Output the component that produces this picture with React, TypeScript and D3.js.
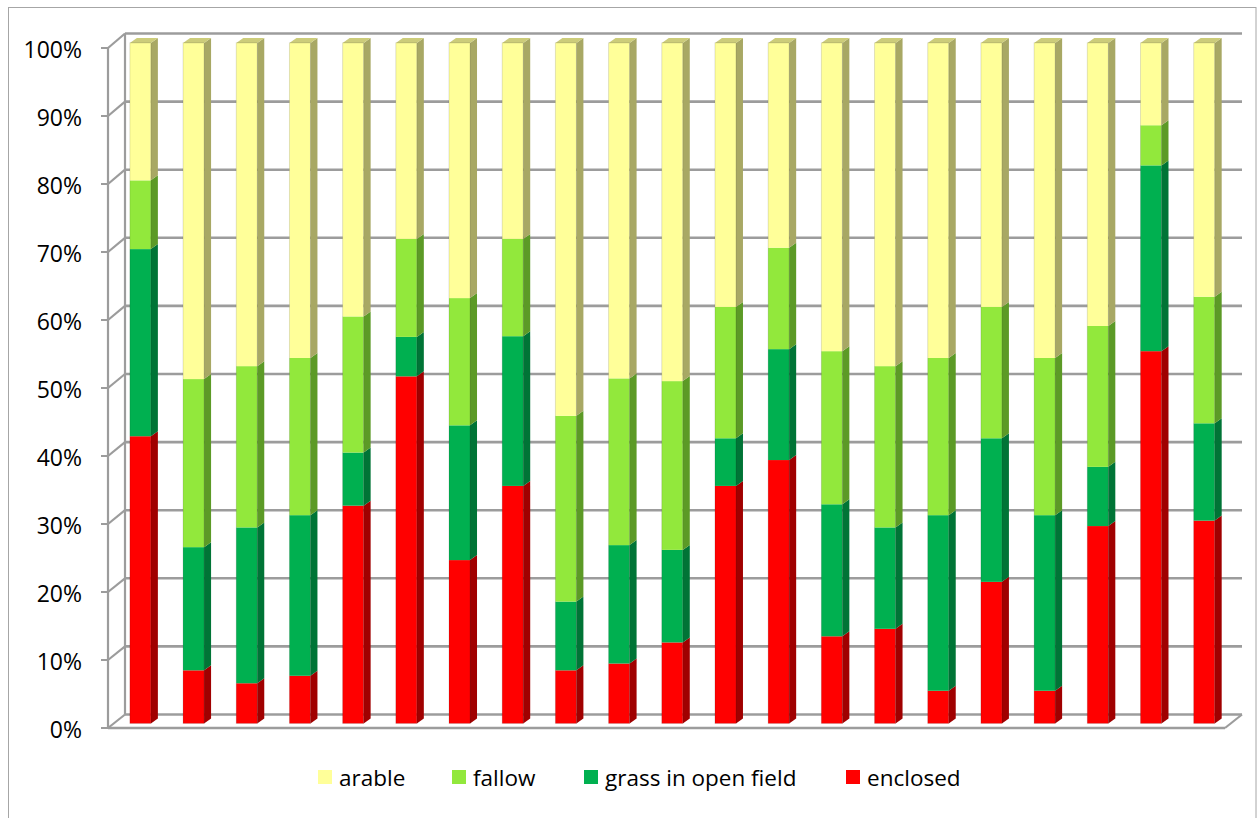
import React from "react";
import * as d3 from "d3";

// ---- data (percent of each bar) ----
const categories = Array.from({ length: 21 }, (_, i) => `${i + 1}`);
const enclosed = [42.2, 7.8, 5.9, 7.0, 32.0, 51.0, 24.0, 34.9, 7.8, 8.8, 11.9, 34.9, 38.7, 12.8, 13.9, 4.8, 20.8, 4.8, 29.0, 54.7, 29.8];
const grass = [27.5, 18.1, 22.9, 23.6, 7.8, 5.8, 19.8, 22.0, 10.1, 17.4, 13.6, 7.0, 16.3, 19.4, 14.9, 25.8, 21.1, 25.8, 8.7, 27.3, 14.3];
const fallow = [10.1, 24.7, 23.7, 23.1, 20.0, 14.4, 18.7, 14.3, 27.3, 24.5, 24.8, 19.3, 14.9, 22.5, 23.7, 23.1, 19.3, 23.1, 20.7, 5.9, 18.6];
const arable = [20.2, 49.4, 47.5, 46.3, 40.2, 28.8, 37.5, 28.8, 54.8, 49.3, 49.7, 38.8, 30.1, 45.3, 47.5, 46.3, 38.8, 46.3, 41.6, 12.1, 37.3];
const yTicks = [0, 0.1, 0.2, 0.3, 0.4, 0.5, 0.6, 0.7, 0.8, 0.9, 1];

const seriesKeys = ["enclosed", "grass", "fallow", "arable"];
const seriesLabels: Record<string, string> = {
  arable: "arable",
  fallow: "fallow",
  grass: "grass in open field",
  enclosed: "enclosed",
};
const legendOrder = ["arable", "fallow", "grass", "enclosed"];
const frontColor: Record<string, string> = {
  arable: "#FFFF99",
  fallow: "#92E83C",
  grass: "#00B050",
  enclosed: "#FF0000",
};
const sideColor: Record<string, string> = {
  arable: "#A8A864",
  fallow: "#5C9A26",
  grass: "#007436",
  enclosed: "#A00000",
};
const topColor: Record<string, string> = {
  arable: "#CCCC7A",
  fallow: "#74BA30",
  grass: "#009040",
  enclosed: "#CC0000",
};

export default function App() {
  const rows = categories.map((c, i) => ({
    cat: c,
    enclosed: enclosed[i],
    grass: grass[i],
    fallow: fallow[i],
    arable: arable[i],
  }));
  const stacked = d3
    .stack<any>()
    .keys(seriesKeys)
    .offset(d3.stackOffsetExpand)(rows);

  // 3D geometry
  const axisX = 108; // front-left of floor
  const depthDX = 17;
  const depthDY = -13.5;
  const floorRightFront = 1225;
  const yFront = d3.scaleLinear().domain([0, 1]).range([728, 48]);
  const yBack = d3.scaleLinear().domain([0, 1]).range([728 + depthDY, 48 + depthDY - 1]);
  const barDepthFrac = 0.34;
  const yBar = d3
    .scaleLinear()
    .domain([0, 1])
    .range([728 + depthDY * barDepthFrac, 48 + depthDY * barDepthFrac - 0.5]);
  const planeLeft = axisX + depthDX * barDepthFrac;
  const planeRight = floorRightFront + depthDX * barDepthFrac;
  const x = d3
    .scaleBand<string>()
    .domain(categories)
    .range([planeLeft, planeRight])
    .paddingInner(0.605)
    .paddingOuter(0.3025);
  const bw = x.bandwidth();
  const sdx = 7;
  const sdy = -5;

  const grid = "#9C9C9C";
  const font = "'Open Sans', 'DejaVu Sans', sans-serif";

  return (
    <svg
      width={1258}
      height={818}
      style={{ position: "absolute", left: 0, top: 0, background: "#fff" }}
    >
      {/* chart border */}
      <rect x={8.5} y={7.5} width={1247.5} height={830} fill="#fff" stroke="#A6A6A6" strokeWidth={1} />

      {/* back wall & gridlines */}
      <line x1={axisX + depthDX} x2={axisX + depthDX} y1={yBack(0)} y2={yBack(1)} stroke={grid} strokeWidth={2.2} />
      {yTicks.map((t) => (
        <g key={t}>
          <line
            x1={axisX + depthDX}
            x2={floorRightFront + depthDX}
            y1={yBack(t)}
            y2={yBack(t)}
            stroke={grid}
            strokeWidth={2.6}
          />
          <line x1={axisX} x2={axisX + depthDX} y1={yFront(t)} y2={yBack(t)} stroke={grid} strokeWidth={2.2} />
          <line x1={axisX - 7} x2={axisX} y1={yFront(t)} y2={yFront(t)} stroke={grid} strokeWidth={2} />
          <text
            x={82}
            y={yFront(t) + 1}
            textAnchor="end"
            dominantBaseline="central"
            fontFamily={font}
            fontSize={23}
            fill="#000"
          >
            {d3.format(".0%")(t)}
          </text>
        </g>
      ))}
      {/* floor */}
      <line x1={axisX} x2={floorRightFront} y1={yFront(0)} y2={yFront(0)} stroke={grid} strokeWidth={2.6} />
      <line
        x1={floorRightFront}
        x2={floorRightFront + depthDX}
        y1={yFront(0)}
        y2={yBack(0)}
        stroke={grid}
        strokeWidth={2.2}
      />
      <line x1={axisX} x2={axisX} y1={yFront(0)} y2={yFront(1)} stroke={grid} strokeWidth={2.2} />

      {/* bars */}
      {categories.map((c, i) => {
        const x0 = x(c)!;
        return (
          <g key={c}>
            {stacked.map((s, si) => {
              const key = s.key;
              const y0 = yBar(s[i][0]);
              const y1 = yBar(s[i][1]);
              const isTop = si === stacked.length - 1;
              return (
                <g key={key}>
                  <rect x={x0} y={y1} width={bw} height={y0 - y1} fill={frontColor[key]} />
                  <polygon
                    points={`${x0 + bw},${y1} ${x0 + bw + sdx},${y1 + sdy} ${x0 + bw + sdx},${y0 + sdy} ${x0 + bw},${y0}`}
                    fill={sideColor[key]}
                  />
                  {isTop && (
                    <polygon
                      points={`${x0},${y1} ${x0 + sdx},${y1 + sdy} ${x0 + bw + sdx},${y1 + sdy} ${x0 + bw},${y1}`}
                      fill={topColor[key]}
                    />
                  )}
                </g>
              );
            })}
            <rect
              x={x0}
              y={yBar(1)}
              width={bw}
              height={yBar(0) - yBar(1)}
              fill="none"
              stroke="#000"
              strokeOpacity={0.12}
              strokeWidth={1}
            />
          </g>
        );
      })}

      {/* legend */}
      {(() => {
        const positions = [318, 452, 584, 846];
        return legendOrder.map((k, i) => (
          <g key={k}>
            <rect x={positions[i]} y={770} width={14} height={14} fill={frontColor[k]} />
            <text
              x={positions[i] + 21}
              y={777}
              dominantBaseline="central"
              fontFamily={font}
              fontSize={22.5}
              fill="#000"
            >
              {seriesLabels[k]}
            </text>
          </g>
        ));
      })()}
    </svg>
  );
}
